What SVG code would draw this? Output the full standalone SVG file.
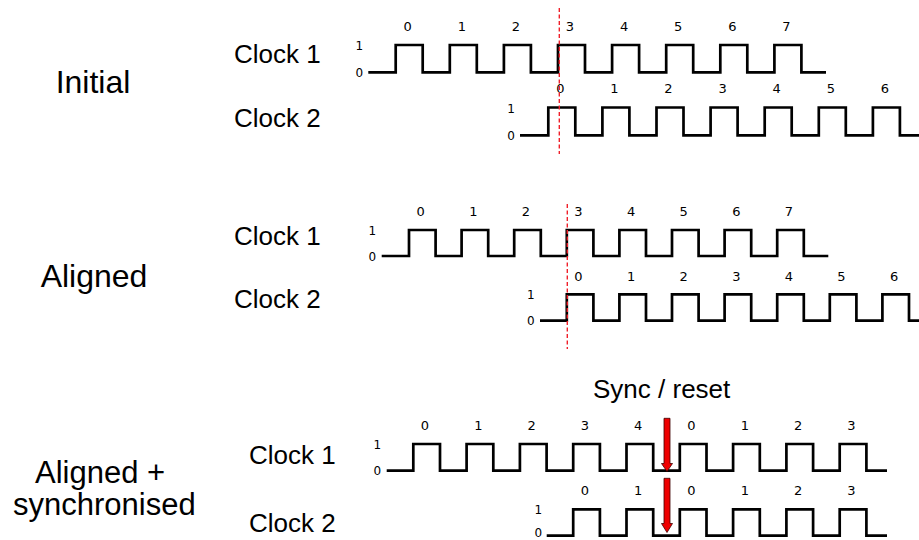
<svg xmlns="http://www.w3.org/2000/svg" width="919" height="540" viewBox="0 0 919 540">
  <style>
    .wave { fill: none; stroke: #000; stroke-width: 2.7; stroke-linejoin: miter; stroke-linecap: butt; }
    .title { font-family: "Liberation Sans", Arial, sans-serif; font-size: 32px; fill: #000; }
    .title2 { font-family: "Liberation Sans", Arial, sans-serif; font-size: 31px; fill: #000; }
    .clk { font-family: "Liberation Sans", Arial, sans-serif; font-size: 26px; fill: #000; }
    .cyc { font-family: "DejaVu Sans", sans-serif; font-size: 13px; fill: #000; text-anchor: middle; }
    .lvl { font-family: "DejaVu Sans", sans-serif; font-size: 12px; fill: #000; text-anchor: middle; }
    .guide { stroke: #f0202a; stroke-width: 1.4; stroke-dasharray: 4 2.5; fill: none; }
    .sync { fill: #ee0000; stroke: #400000; stroke-width: 0.8; stroke-linejoin: miter; }
  </style>

  <!-- Section 1: initial, unaligned clocks -->
  <g id="initial">
    <text class="title" x="93" y="92.7" text-anchor="middle">Initial</text>
    <text class="clk" x="234" y="63.3">Clock 1</text>
    <text class="clk" x="234" y="126.7">Clock 2</text>

    <g id="initial-clock1">
      <text class="lvl" x="359.3" y="50">1</text>
      <text class="lvl" x="359.3" y="76.7">0</text>
      <path class="wave" d="M368.3,72.3 H395.7 V45 H422.7 V72.3 H449.8 V45 H476.8 V72.3 H503.9 V45 H530.9 V72.3 H558 V45 H585 V72.3 H612.1 V45 H639.1 V72.3 H666.2 V45 H693.2 V72.3 H720.3 V45 H747.3 V72.3 H774.4 V45 H801.4 V72.3 H826"/>
      <text class="cyc" x="407.7" y="31">0</text>
      <text class="cyc" x="461.8" y="31">1</text>
      <text class="cyc" x="515.9" y="31">2</text>
      <text class="cyc" x="570" y="31">3</text>
      <text class="cyc" x="624.1" y="31">4</text>
      <text class="cyc" x="678.2" y="31">5</text>
      <text class="cyc" x="732.3" y="31">6</text>
      <text class="cyc" x="786.4" y="31">7</text>
    </g>

    <g id="initial-clock2">
      <text class="lvl" x="511" y="112.5">1</text>
      <text class="lvl" x="511" y="139.7">0</text>
      <path class="wave" d="M520,135.3 H548.3 V107.5 H575.3 V135.3 H602.4 V107.5 H629.4 V135.3 H656.5 V107.5 H683.5 V135.3 H710.6 V107.5 H737.6 V135.3 H764.7 V107.5 H791.7 V135.3 H818.8 V107.5 H845.8 V135.3 H872.9 V107.5 H899.9 V135.3 H919"/>
      <text class="cyc" x="560.3" y="93.3">0</text>
      <text class="cyc" x="614.4" y="93.3">1</text>
      <text class="cyc" x="668.5" y="93.3">2</text>
      <text class="cyc" x="722.6" y="93.3">3</text>
      <text class="cyc" x="776.7" y="93.3">4</text>
      <text class="cyc" x="830.8" y="93.3">5</text>
      <text class="cyc" x="884.9" y="93.3">6</text>
    </g>
  </g>

  <!-- Section 2: aligned clocks -->
  <g id="aligned">
    <text class="title" x="94" y="287.3" text-anchor="middle">Aligned</text>
    <text class="clk" x="234" y="245">Clock 1</text>
    <text class="clk" x="234" y="308.3">Clock 2</text>

    <g id="aligned-clock1">
      <text class="lvl" x="372.3" y="235">1</text>
      <text class="lvl" x="372.3" y="261">0</text>
      <path class="wave" d="M381.7,256 H409 V230 H435.6 V256 H461.6 V230 H488.2 V256 H514.2 V230 H540.8 V256 H566.8 V230 H593.4 V256 H619.4 V230 H646 V256 H672 V230 H698.6 V256 H724.6 V230 H751.2 V256 H777.2 V230 H803.8 V256 H828.3"/>
      <text class="cyc" x="420.7" y="216">0</text>
      <text class="cyc" x="473.3" y="216">1</text>
      <text class="cyc" x="525.9" y="216">2</text>
      <text class="cyc" x="578.5" y="216">3</text>
      <text class="cyc" x="631.1" y="216">4</text>
      <text class="cyc" x="683.7" y="216">5</text>
      <text class="cyc" x="736.3" y="216">6</text>
      <text class="cyc" x="788.9" y="216">7</text>
    </g>

    <g id="aligned-clock2">
      <text class="lvl" x="530.7" y="299.3">1</text>
      <text class="lvl" x="530.7" y="325">0</text>
      <path class="wave" d="M540,320.7 H566.8 V294.3 H593.4 V320.7 H619.4 V294.3 H646 V320.7 H672 V294.3 H698.6 V320.7 H724.6 V294.3 H751.2 V320.7 H777.2 V294.3 H803.8 V320.7 H829.8 V294.3 H856.4 V320.7 H882.4 V294.3 H909 V320.7 H919"/>
      <text class="cyc" x="578.5" y="280.7">0</text>
      <text class="cyc" x="631.1" y="280.7">1</text>
      <text class="cyc" x="683.7" y="280.7">2</text>
      <text class="cyc" x="736.3" y="280.7">3</text>
      <text class="cyc" x="788.9" y="280.7">4</text>
      <text class="cyc" x="841.5" y="280.7">5</text>
      <text class="cyc" x="894.1" y="280.7">6</text>
    </g>
  </g>

  <!-- Section 3: aligned and synchronised clocks -->
  <g id="synchronised">
    <text class="title2" x="35" y="483.3">Aligned +</text>
    <text class="title2" x="13" y="515">synchronised</text>
    <text class="clk" x="249" y="464">Clock 1</text>
    <text class="clk" x="249" y="531.7">Clock 2</text>
    <text class="clk" x="593" y="398.3">Sync / reset</text>

    <g id="sync-clock1">
      <text class="lvl" x="377.3" y="449">1</text>
      <text class="lvl" x="377.3" y="475">0</text>
      <path class="wave" d="M386.7,470.7 H413.3 V444 H440 V470.7 H466.6 V444 H493.3 V470.7 H519.9 V444 H546.6 V470.7 H573.2 V444 H599.9 V470.7 H626.5 V444 H653.2 V470.7 H679.8 V444 H706.5 V470.7 H733.1 V444 H759.8 V470.7 H786.4 V444 H813.1 V470.7 H839.7 V444 H866.4 V470.7 H887"/>
      <text class="cyc" x="425" y="430">0</text>
      <text class="cyc" x="478.3" y="430">1</text>
      <text class="cyc" x="531.6" y="430">2</text>
      <text class="cyc" x="584.9" y="430">3</text>
      <text class="cyc" x="638.2" y="430">4</text>
      <text class="cyc" x="691.5" y="430">0</text>
      <text class="cyc" x="744.8" y="430">1</text>
      <text class="cyc" x="798.1" y="430">2</text>
      <text class="cyc" x="851.4" y="430">3</text>
    </g>

    <g id="sync-clock2">
      <text class="lvl" x="538.3" y="514">1</text>
      <text class="lvl" x="538.3" y="537">0</text>
      <path class="wave" d="M546.7,535.7 H573.2 V509.3 H599.9 V535.7 H626.5 V509.3 H653.2 V535.7 H679.8 V509.3 H706.5 V535.7 H733.1 V509.3 H759.8 V535.7 H786.4 V509.3 H813.1 V535.7 H839.7 V509.3 H866.4 V535.7 H887"/>
      <text class="cyc" x="585" y="495">0</text>
      <text class="cyc" x="638.2" y="495">1</text>
      <text class="cyc" x="691.5" y="495">0</text>
      <text class="cyc" x="744.8" y="495">1</text>
      <text class="cyc" x="798.1" y="495">2</text>
      <text class="cyc" x="851.4" y="495">3</text>
    </g>
  </g>

  <!-- Reference edges and sync pulses -->
  <g id="connectors">
    <line class="guide" x1="559.3" y1="8" x2="559.3" y2="154"/>
    <line class="guide" x1="567.3" y1="204" x2="567.3" y2="349"/>
    <polygon class="sync" points="664,418.3 670,418.3 670,463.5 672.5,463.5 667,471.5 661.5,463.5 664,463.5"/>
    <polygon class="sync" points="664,478.3 670,478.3 670,523.5 672.5,523.5 667,532.5 661.5,523.5 664,523.5"/>
  </g>
</svg>
